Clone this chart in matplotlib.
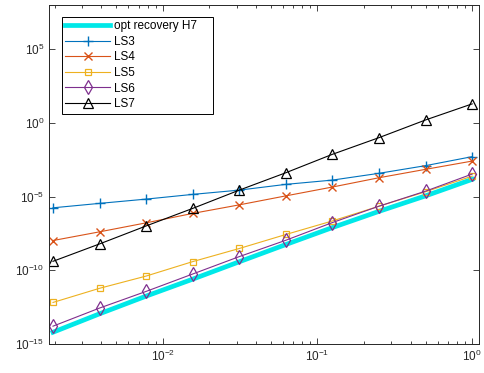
import numpy as np
import matplotlib.pyplot as plt
from matplotlib.ticker import FixedLocator, NullLocator, LogLocator, LogFormatterSciNotation

plt.rcParams["font.family"] = ["Liberation Sans", "DejaVu Sans"]
plt.rcParams["mathtext.fontset"] = "custom"
plt.rcParams["mathtext.rm"] = "Liberation Sans"

# step sizes h = 2^-9 ... 2^0
h = 2.0 ** np.arange(-9, 1)

# errors (log10) per method
err_opt = [-14.2, -12.95, -11.75, -10.6, -9.42, -8.25, -7.1, -6.0, -4.95, -3.83]
err_ls3 = [-5.76, -5.46, -5.17, -4.85, -4.56, -4.17, -3.88, -3.42, -2.90, -2.29]
err_ls4 = [-7.98, -7.39, -6.78, -6.14, -5.56, -4.95, -4.35, -3.72, -3.15, -2.59]
err_ls5 = [-12.18, -11.22, -10.39, -9.41, -8.52, -7.57, -6.65, -5.65, -4.67, -3.61]
err_ls6 = [-13.79, -12.56, -11.43, -10.25, -9.07, -7.96, -6.76, -5.65, -4.63, -3.47]
err_ls7 = [-9.39, -8.21, -6.99, -5.80, -4.56, -3.38, -2.13, -1.00, 0.20, 1.29]

fig = plt.figure(figsize=(4.85, 3.73), dpi=100)
ax = fig.add_axes([0.101, 0.0777, 0.887, 0.909])

lw = 0.8
ax.loglog(h, 10.0 ** np.array(err_opt), color="#00E8E8", lw=3.4, label="opt recovery H7")
ax.loglog(h, 10.0 ** np.array(err_ls3), color="#0072BD", lw=lw, marker="+", ms=7,
          mew=1, label="LS3")
ax.loglog(h, 10.0 ** np.array(err_ls4), color="#D95319", lw=lw, marker="x", ms=5.5,
          mew=1, label="LS4")
ax.loglog(h, 10.0 ** np.array(err_ls5), color="#EDB120", lw=lw, marker="s", ms=5,
          mfc="none", mew=0.9, label="LS5")
ax.loglog(h, 10.0 ** np.array(err_ls6), color="#7E2F8E", lw=lw, marker="d", ms=7,
          mfc="none", mew=0.9, label="LS6")
ax.loglog(h, 10.0 ** np.array(err_ls7), color="black", lw=lw, marker="^", ms=6.5,
          mfc="none", mew=0.9, label="LS7")

ax.set_xlim(1.84e-3, 1.11)
ax.set_ylim(1e-15, 1e8)

ax.yaxis.set_major_locator(FixedLocator([1e-15, 1e-10, 1e-5, 1e0, 1e5]))
ax.yaxis.set_minor_locator(NullLocator())
ax.yaxis.set_major_formatter(LogFormatterSciNotation())
ax.xaxis.set_major_locator(FixedLocator([1e-2, 1e-1, 1e0]))
ax.xaxis.set_minor_locator(LogLocator(base=10, subs=np.arange(2, 10)))
ax.xaxis.set_major_formatter(LogFormatterSciNotation())

ax.tick_params(which="both", direction="in", top=True, right=True, labelsize=8.5,
               color="#262626", labelcolor="#262626", width=0.6)
ax.tick_params(which="major", length=4)
ax.tick_params(which="minor", length=2.5)
for s in ax.spines.values():
    s.set_linewidth(0.7)
    s.set_color("#262626")

leg = ax.legend(loc="upper left", bbox_to_anchor=(0.03, 0.675, 0.351, 0.29),
                mode="expand", fontsize=8.5,
                handlelength=3.8, handletextpad=0.3, labelspacing=0.3,
                borderpad=0.3, borderaxespad=0, fancybox=False, framealpha=1)
leg.get_frame().set_edgecolor("black")
leg.get_frame().set_linewidth(0.7)

fig.savefig("out.png", dpi=100)
